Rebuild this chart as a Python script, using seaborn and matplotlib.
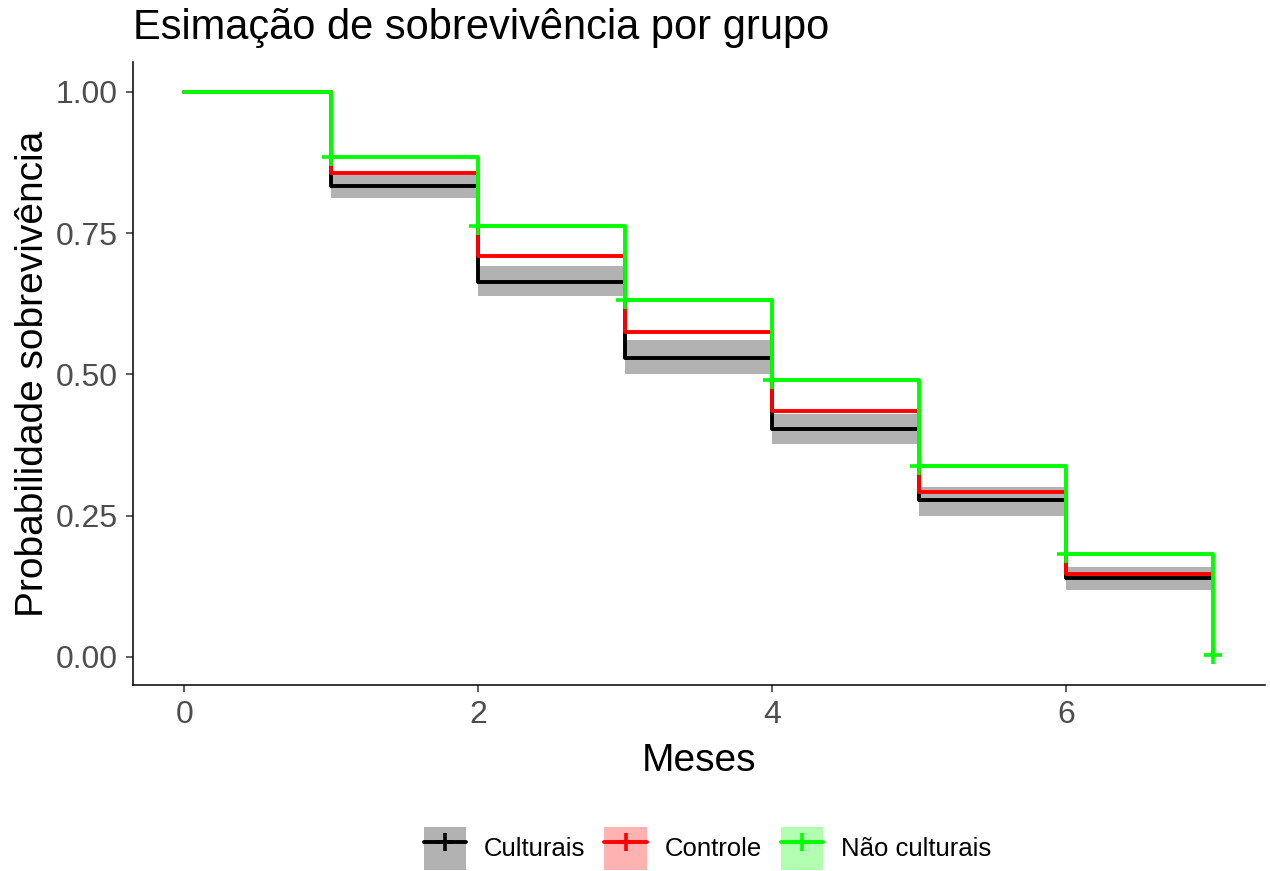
import matplotlib
matplotlib.use("Agg")
import matplotlib.pyplot as plt
from matplotlib.patches import Patch
from matplotlib.lines import Line2D
import pandas as pd
import seaborn as sns

# survival estimates
meses = [0, 1, 2, 3, 4, 5, 6, 7]
culturais = [1.0, 0.834, 0.664, 0.529, 0.404, 0.278, 0.140, 0.140]
controle = [1.0, 0.857, 0.710, 0.575, 0.435, 0.292, 0.147, 0.147]
nao_culturais = [1.0, 0.885, 0.763, 0.632, 0.490, 0.338, 0.182, 0.0]

# confidence band for "Culturais" (from month 1 on)
banda_meses = [1, 2, 3, 4, 5, 6, 7]
banda_inf = [0.812, 0.639, 0.501, 0.377, 0.250, 0.119, 0.119]
banda_sup = [0.853, 0.692, 0.561, 0.430, 0.301, 0.159, 0.159]

# censor marks (Não culturais)
censura_meses = [1, 2, 3, 4, 5, 6, 7]
censura_prob = [0.885, 0.763, 0.632, 0.490, 0.338, 0.182, 0.004]

grupos = ["Culturais", "Controle", "Não culturais"]
cores = {"Culturais": "#000000", "Controle": "#FF0000", "Não culturais": "#00FF00"}

sns.set_style("ticks")
plt.rcParams["font.family"] = ["Liberation Sans", "DejaVu Sans"]
plt.rcParams["text.color"] = "black"
plt.rcParams["axes.labelcolor"] = "black"

df = pd.DataFrame({
    "Meses": meses * 3,
    "prob": culturais + controle + nao_culturais,
    "grupo": ["Culturais"] * len(meses) + ["Controle"] * len(meses)
             + ["Não culturais"] * len(meses),
})

fig = plt.figure(figsize=(12.7, 8.71), dpi=100)
ax = fig.add_axes([0.1047, 0.2136, 0.8913, 0.7152])

ax.fill_between(banda_meses, banda_inf, banda_sup, step="post",
                color="black", alpha=0.3, linewidth=0, zorder=1)

sns.lineplot(data=df, x="Meses", y="prob", hue="grupo", hue_order=grupos,
             palette=cores, drawstyle="steps-post", linewidth=2.8,
             legend=False, ax=ax, zorder=2)

sns.scatterplot(x=censura_meses, y=censura_prob, marker="+", s=150,
                linewidth=2.6, color="#00FF00", ax=ax, zorder=3)

ax.set_xlim(-0.35, 7.35)
ax.set_ylim(-0.0496, 1.053)
ax.set_xticks([0, 2, 4, 6])
ax.set_yticks([0, 0.25, 0.5, 0.75, 1.0])
ax.set_yticklabels(["0.00", "0.25", "0.50", "0.75", "1.00"])
ax.tick_params(labelsize=23, labelcolor="#4d4d4d", length=5, width=1.1,
               color="#333333", pad=6)
for s in ["left", "bottom"]:
    ax.spines[s].set_linewidth(1.1)
    ax.spines[s].set_color("black")
sns.despine(ax=ax)

ax.set_xlabel("Meses", fontsize=28, labelpad=9)
ax.set_ylabel("Probabilidade sobrevivência", fontsize=28, labelpad=3)
ax.set_title("Esimação de sobrevivência por grupo", fontsize=30,
             loc="left", pad=16.5)

handles = []
for g in grupos:
    fundo = Patch(facecolor=cores[g], alpha=0.3, edgecolor="none")
    linha = Line2D([], [], color=cores[g], linewidth=2.8, marker="+",
                   markersize=13, markeredgewidth=2.6)
    handles.append((fundo, linha))

fig.legend(handles, grupos, loc="center", bbox_to_anchor=(0.557, 0.026),
           ncol=3, frameon=False, fontsize=18.5, handlelength=1.65,
           handleheight=2.2, columnspacing=0.76, handletextpad=0.68)

fig.savefig("out.png", dpi=100)
